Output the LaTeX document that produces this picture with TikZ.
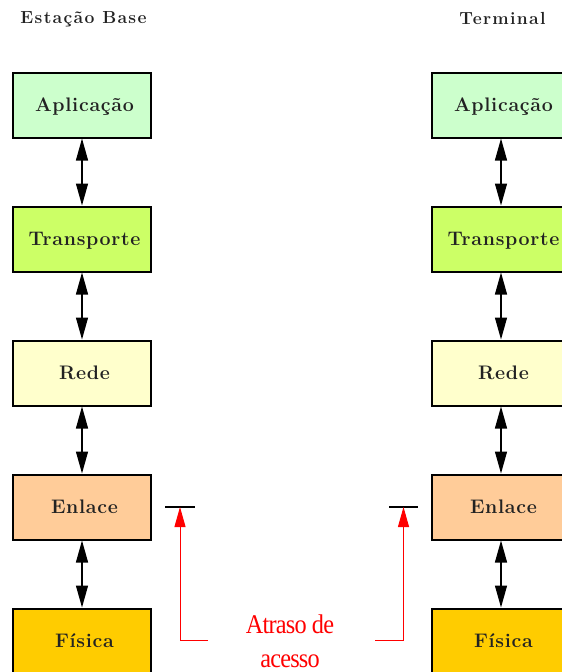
\documentclass[tikz,border=0pt]{standalone}
\usepackage{fontspec}
\newfontfamily\notefont{Liberation Serif}[FakeStretch=0.9,LetterSpace=-3]
\newfontfamily\layerfont{Latin Modern Roman}[LetterSpace=3.5]
\newfontfamily\headfont{Latin Modern Roman}[LetterSpace=7.5]
\usetikzlibrary{arrows.meta}
\definecolor{txtgrey}{HTML}{222222}
\definecolor{cApl}{HTML}{CCFFCC}
\definecolor{cTra}{HTML}{CCFF66}
\definecolor{cRede}{HTML}{FFFFCC}
\definecolor{cEnl}{HTML}{FFCC99}
\definecolor{cFis}{HTML}{FFCC00}
\definecolor{noteRed}{HTML}{FF0000}
\begin{document}
\begin{tikzpicture}[x=1pt,y=-1pt,
  layer/.style={draw=black,line width=2pt,minimum width=138pt,minimum height=65pt,
    inner sep=0pt,text=txtgrey,text height=16pt,text depth=4pt,
    font=\layerfont\fontsize{19.6}{22}\selectfont\bfseries,
    execute at begin node={\hspace*{5pt}}},
  title/.style={anchor=base,text=txtgrey,
    font=\headfont\fontsize{17.5}{21}\selectfont\bfseries},
  link/.style={line width=1.3pt,
    {Triangle[length=22pt,width=12pt]}-{Triangle[length=22pt,width=12pt]}},
  tick/.style={line width=2pt},
  delay/.style={draw=noteRed,line width=1pt,-{Triangle[length=20pt,width=11pt]}},
  note/.style={text=noteRed,align=center,inner sep=0pt,
    font=\notefont\fontsize{27}{34}\selectfont}]
\useasboundingbox (0,0) rectangle (562,672);

% column headings
\node[title] (hB) at (83.5,23.5) {Estação Base};
\node[title] (hT) at (502.5,24.5) {Terminal};

% protocol stacks
\foreach \side/\x in {L/82,R/501}{
  \node[layer,fill=cApl] (apl\side) at (\x,105) {Aplicação};
  \node[layer,fill=cTra] (tra\side) at (\x,239) {Transporte};
  \node[layer,fill=cRede] (red\side) at (\x,373) {Rede};
  \node[layer,fill=cEnl] (enl\side) at (\x,507) {Enlace};
  \node[layer,fill=cFis] (fis\side) at (\x,641) {Física};
  \draw[link] (apl\side.south) -- (tra\side.north);
  \draw[link] (tra\side.south) -- (red\side.north);
  \draw[link] (red\side.south) -- (enl\side.north);
  \draw[link] (enl\side.south) -- (fis\side.north);
}

% access-delay markers
\coordinate (mL) at (180,507);
\coordinate (mR) at (403.5,507);
\draw[tick] ([xshift=-15pt]mL) -- ([xshift=15pt]mL);
\draw[tick] ([xshift=-14.5pt]mR) -- ([xshift=14.5pt]mR);

\node[note] (note) at (290,641) {Atraso de\\acesso};
\coordinate (nL) at (208,640);
\coordinate (nR) at (375,640);
\draw[delay] (nL) -| (mL);
\draw[delay] (nR) -| (mR);
\end{tikzpicture}
\end{document}
